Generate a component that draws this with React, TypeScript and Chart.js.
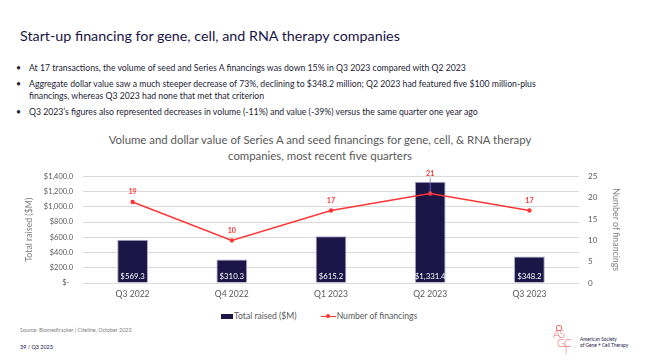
import React, { useEffect, useRef } from "react";
import { Chart, registerables } from "chart.js";

Chart.register(...registerables);

const categories = ["Q3 2022", "Q4 2022", "Q1 2023", "Q2 2023", "Q3 2023"];
const totalRaised = [569.3, 310.3, 615.2, 1331.4, 348.2];
const numFinancings = [19, 10, 17, 21, 17];
const leftAxisMax = 1400;
const leftAxisStep = 200;
const rightAxisMax = 25;
const rightAxisStep = 5;

const bullets = [
  "At 17 transactions, the volume of seed and Series A financings was down 15% in Q3 2023 compared with Q2 2023",
  "Aggregate dollar value saw a much steeper decrease of 73%, declining to $348.2 million; Q2 2023 had featured five $100 million-plus financings, whereas Q3 2023 had none that met that criterion",
  "Q3 2023\u2019s figures also represented decreases in volume (-11%) and value (-39%) versus the same quarter one year ago",
];

const FONT = "Lato, 'Noto Sans', sans-serif";
const NAVY = "#1c1548";
const RED = "#ff3636";
const GRAY = "#595959";

function fmtMoney(v: number) {
  if (v === 0) return "$-  ";
  return "$" + v.toLocaleString("en-US", { minimumFractionDigits: 1, maximumFractionDigits: 1 });
}

const labelPlugin = {
  id: "valueLabels",
  afterDatasetsDraw(chart: any) {
    const ctx = chart.ctx;
    const yScale = chart.scales.y;
    const barIdx = chart.data.datasets.findIndex((d: any) => d.type === "bar");
    const barMeta = chart.getDatasetMeta(barIdx);
    chart.data.datasets.forEach((ds: any, i: number) => {
      const meta = chart.getDatasetMeta(i);
      ctx.save();
      ctx.textAlign = "center";
      ctx.textBaseline = "middle";
      if (ds.type === "bar") {
        ctx.fillStyle = "#ffffff";
        ctx.font = `7.8px ${FONT}`;
        meta.data.forEach((el: any, j: number) => {
          ctx.fillText(fmtMoney(ds.data[j]), el.x, yScale.bottom - 7);
        });
      } else {
        meta.data.forEach((el: any, j: number) => {
          let ly = el.y - 10;
          const bar = barMeta.data[j];
          if (bar && bar.y < el.y && ly > bar.y - 8) {
            ly = bar.y - 8;
            ctx.strokeStyle = "#7d72d6";
            ctx.lineWidth = 0.8;
            ctx.beginPath();
            ctx.moveTo(el.x, ly + 4);
            ctx.lineTo(el.x, el.y);
            ctx.stroke();
          }
          ctx.fillStyle = RED;
          ctx.font = `bold 7.2px ${FONT}`;
          ctx.fillText(String(ds.data[j]), el.x, ly);
        });
      }
      ctx.restore();
    });
  },
};

function ChartBox() {
  const ref = useRef<HTMLCanvasElement | null>(null);
  useEffect(() => {
    if (!ref.current) return;
    const chart = new Chart(ref.current, {
      type: "bar",
      data: {
        labels: categories,
        datasets: [
          {
            type: "line",
            label: "Number of financings",
            data: numFinancings,
            yAxisID: "y1",
            borderColor: RED,
            backgroundColor: RED,
            borderWidth: 1.5,
            pointRadius: 2.2,
            pointBackgroundColor: RED,
            pointBorderWidth: 0,
            tension: 0,
            order: 0,
          } as any,
          {
            type: "bar",
            label: "Total raised ($M)",
            data: totalRaised,
            yAxisID: "y",
            backgroundColor: NAVY,
            borderColor: "#aaa6c6",
            borderWidth: 1,
            barPercentage: 0.31,
            categoryPercentage: 1,
            order: 1,
          } as any,
        ],
      },
      options: {
        animation: false,
        responsive: false,
        maintainAspectRatio: false,
        layout: { padding: { top: 10, left: 0, right: 0, bottom: 0 } },
        plugins: { legend: { display: false }, tooltip: { enabled: false } },
        scales: {
          x: {
            grid: { display: false, drawTicks: false },
            border: { display: false },
            ticks: { color: GRAY, font: { family: FONT, size: 8.6 }, padding: 6 },
            afterFit(s: any) { s.height = 22; },
          },
          y: {
            position: "left",
            min: 0,
            max: leftAxisMax,
            grid: { color: "#d9d9d9", lineWidth: 1, drawTicks: false },
            border: { display: false },
            ticks: {
              stepSize: leftAxisStep,
              color: GRAY,
              font: { family: FONT, size: 7.4 },
              padding: 10,
              callback: (v: any) => fmtMoney(Number(v)),
            },
            title: {
              display: true,
              text: "Total raised ($M)",
              color: "#7f7f7f",
              font: { family: FONT, size: 8.8 },
              padding: { top: 9, bottom: 0 },
            },
            afterFit(s: any) { s.width = 68; },
          },
          y1: {
            position: "right",
            min: 0,
            max: rightAxisMax,
            grid: { display: false, drawTicks: false },
            border: { display: false },
            ticks: {
              stepSize: rightAxisStep,
              color: GRAY,
              font: { family: FONT, size: 8 },
              padding: 9,
            },
            title: {
              display: true,
              text: "Number of financings",
              color: "#7f7f7f",
              font: { family: FONT, size: 8.8 },
              padding: { top: 14, bottom: 0 },
            },
            afterFit(s: any) { s.width = 56; },
          },
        },
      } as any,
      plugins: [labelPlugin],
    });
    return () => chart.destroy();
  }, []);
  return (
    <canvas
      ref={ref}
      width={620}
      height={143}
      style={{ position: "absolute", left: 15, top: 162, width: 620, height: 143 }}
    />
  );
}

export default function App() {
  return (
    <div
      style={{
        position: "fixed",
        left: 0,
        top: 0,
        width: 649,
        height: 363,
        background: "#ffffff",
        overflow: "hidden",
        fontFamily: FONT,
      }}
    >
      <div style={{ position: "absolute", left: 20, top: 27, fontSize: 14.3, color: "#1a1446", whiteSpace: "nowrap" }}>
        Start-up financing for gene, cell, and RNA therapy companies
      </div>
      <div style={{ position: "absolute", left: 16, top: 62, width: 520, fontSize: 8.7, color: "#1d1d35", lineHeight: "12px" }}>
        {bullets.map((b, i) => (
          <div key={i} style={{ display: "flex", marginBottom: 4 }}>
            <span style={{ width: 13, flex: "none" }}>{"\u2022"}</span>
            <span>{b}</span>
          </div>
        ))}
      </div>
      <div style={{ position: "absolute", left: 90, top: 132, width: 460, textAlign: "center", fontSize: 11.4, color: GRAY, lineHeight: "16px" }}>
        Volume and dollar value of Series A and seed financings for gene, cell, &amp; RNA therapy<br />companies, most recent five quarters
      </div>
      <ChartBox />
      <div style={{ position: "absolute", left: 221, top: 311, fontSize: 8.6, color: GRAY, display: "flex", alignItems: "center", whiteSpace: "nowrap" }}>
        <span style={{ display: "inline-block", width: 12, height: 5, background: NAVY, marginRight: 1 }} />
        <span>Total raised ($M)</span>
        <span style={{ display: "inline-block", width: 24 }} />
        <span style={{ position: "relative", display: "inline-block", width: 15, height: 9, marginRight: 1 }}>
          <span style={{ position: "absolute", left: 0, top: 4, width: 15, height: 1.5, background: RED }} />
          <span style={{ position: "absolute", left: 5.5, top: 2.8, width: 4, height: 4, borderRadius: 2, background: RED }} />
        </span>
        <span>Number of financings</span>
      </div>
      <div style={{ position: "absolute", left: 20, top: 327, fontSize: 5.4, color: "#7f7f7f", whiteSpace: "nowrap" }}>
        Source: Biomedtracker | Citeline, October 2023
      </div>
      <div style={{ position: "absolute", left: 20, top: 344, fontSize: 5.4, color: "#1a1446", whiteSpace: "nowrap" }}>
        39 / Q3 2023
      </div>
      <div style={{ position: "absolute", left: 553, top: 325, width: 28, height: 30, color: "#f07070", fontSize: 11, lineHeight: "10px", fontWeight: 300 }}>
        <div style={{ position: "absolute", left: 3, top: 0, width: 4, height: 4, borderRadius: 2, border: "1px solid #f07070" }} />
        <div style={{ position: "absolute", left: 0, top: 4, letterSpacing: -1 }}>AS</div>
        <div style={{ position: "absolute", left: 4, top: 13, letterSpacing: -1 }}>GC</div>
        <div style={{ position: "absolute", left: 10, top: 20, letterSpacing: -1 }}>T</div>
      </div>
      <div style={{ position: "absolute", left: 580, top: 336, fontSize: 4.8, color: "#1a1446", lineHeight: "6px", whiteSpace: "nowrap" }}>
        American Society<br />of Gene + Cell Therapy
      </div>
    </div>
  );
}
